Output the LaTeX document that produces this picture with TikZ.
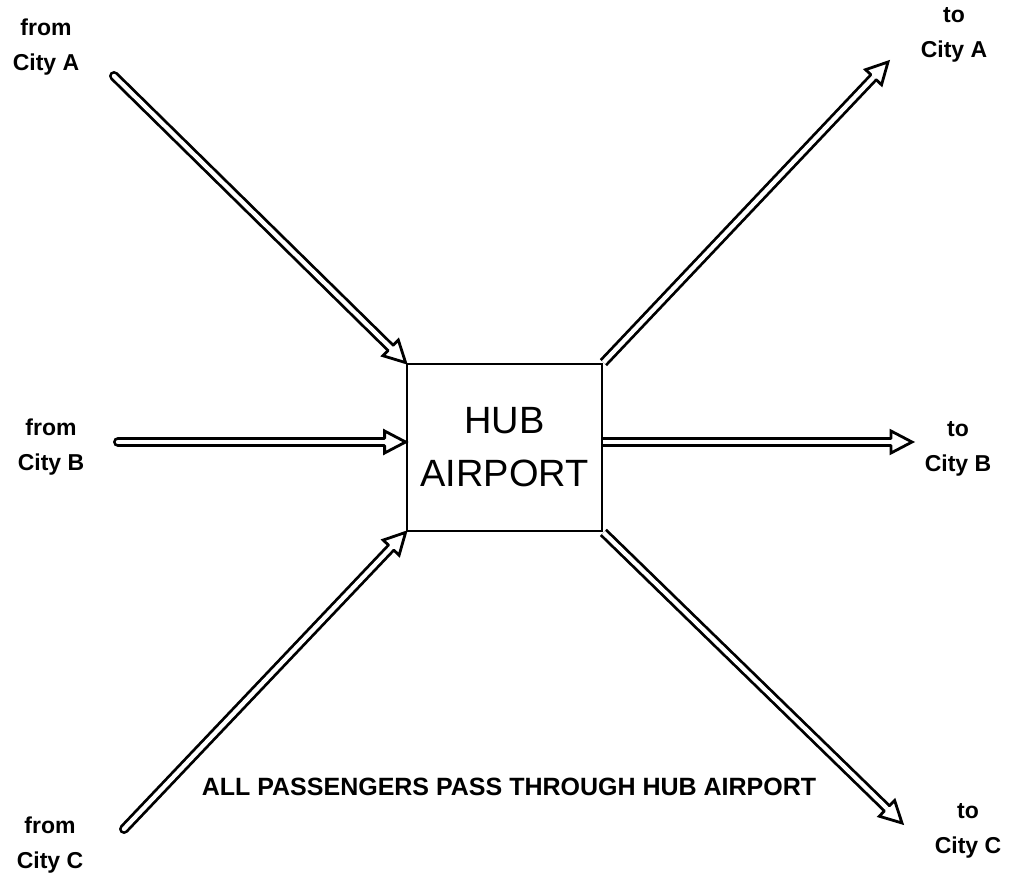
\documentclass[tikz,border=0pt]{standalone}
\usepackage{fontspec}
\setmainfont{Liberation Sans}
\usetikzlibrary{calc}
\def\arrHL{21pt}
\def\arrHW{11pt}
\def\arrSW{3.6pt}
\tikzset{
  shaft/.style={draw, double=white, double distance=4.4pt, line width=2.8pt, line cap=round},
  shaftout/.style={shaft, line cap=butt},
  arrhead/.style={draw, fill=white, line width=2.8pt, line join=miter, line cap=round},
  hubbox/.style={draw, line width=2.8pt, minimum width=195pt, minimum height=167pt, inner sep=0pt,
    align=center, font=\fontsize{38}{53}\selectfont},
  city/.style={align=center, inner sep=0pt, font=\bfseries\fontsize{23}{35}\selectfont},
  note/.style={inner sep=0pt, font=\bfseries\fontsize{25}{29}\selectfont}
}
\newcommand{\hollowarrow}[3][shaft]{%
  \draw[#1] (#2) -- ($(#3)!\arrHL!(#2)$);
  \path[arrhead] ($(#3)!\arrHL!(#2)!\arrSW!90:(#3)$) -- ($(#3)!\arrHL!(#2)!\arrHW!90:(#3)$)
     -- (#3) -- ($(#3)!\arrHL!(#2)!\arrHW!-90:(#3)$) -- ($(#3)!\arrHL!(#2)!\arrSW!-90:(#3)$);
}
\begin{document}
\begin{tikzpicture}[x=1pt,y=-1pt]
\useasboundingbox[fill=white] (0,0) rectangle (1009,880);
\node[hubbox] (hub) at (504.5,447.5) {HUB\\AIRPORT};
% labels
\node[city] (lfA) at (46,47) {from\\City A};
\node[city] (lfB) at (51,447) {from\\City B};
\node[city] (lfC) at (50,845) {from\\City C};
\node[city] (ltA) at (954,35) {to\\City A};
\node[city] (ltB) at (958,449) {to\\City B};
\node[city] (ltC) at (968,831) {to\\City C};
\node[note] (msg) at (509,787) {ALL PASSENGERS PASS THROUGH HUB AIRPORT};
% arrow end points
\coordinate (fA) at (114,76);
\coordinate (fB) at (118,442);
\coordinate (fC) at (124,829);
\coordinate (tA) at (888,62);
\coordinate (tB) at (912,442);
\coordinate (tC) at (902,823);
\coordinate (hubB) at (fB -| hub.west);
\coordinate (hubBo) at (tB -| hub.east);
% arrows
\hollowarrow{fA}{hub.north west}
\hollowarrow{fB}{hubB}
\hollowarrow{fC}{hub.south west}
\hollowarrow[shaftout]{hub.north east}{tA}
\hollowarrow[shaftout]{hubBo}{tB}
\hollowarrow[shaftout]{hub.south east}{tC}
\end{tikzpicture}
\end{document}
